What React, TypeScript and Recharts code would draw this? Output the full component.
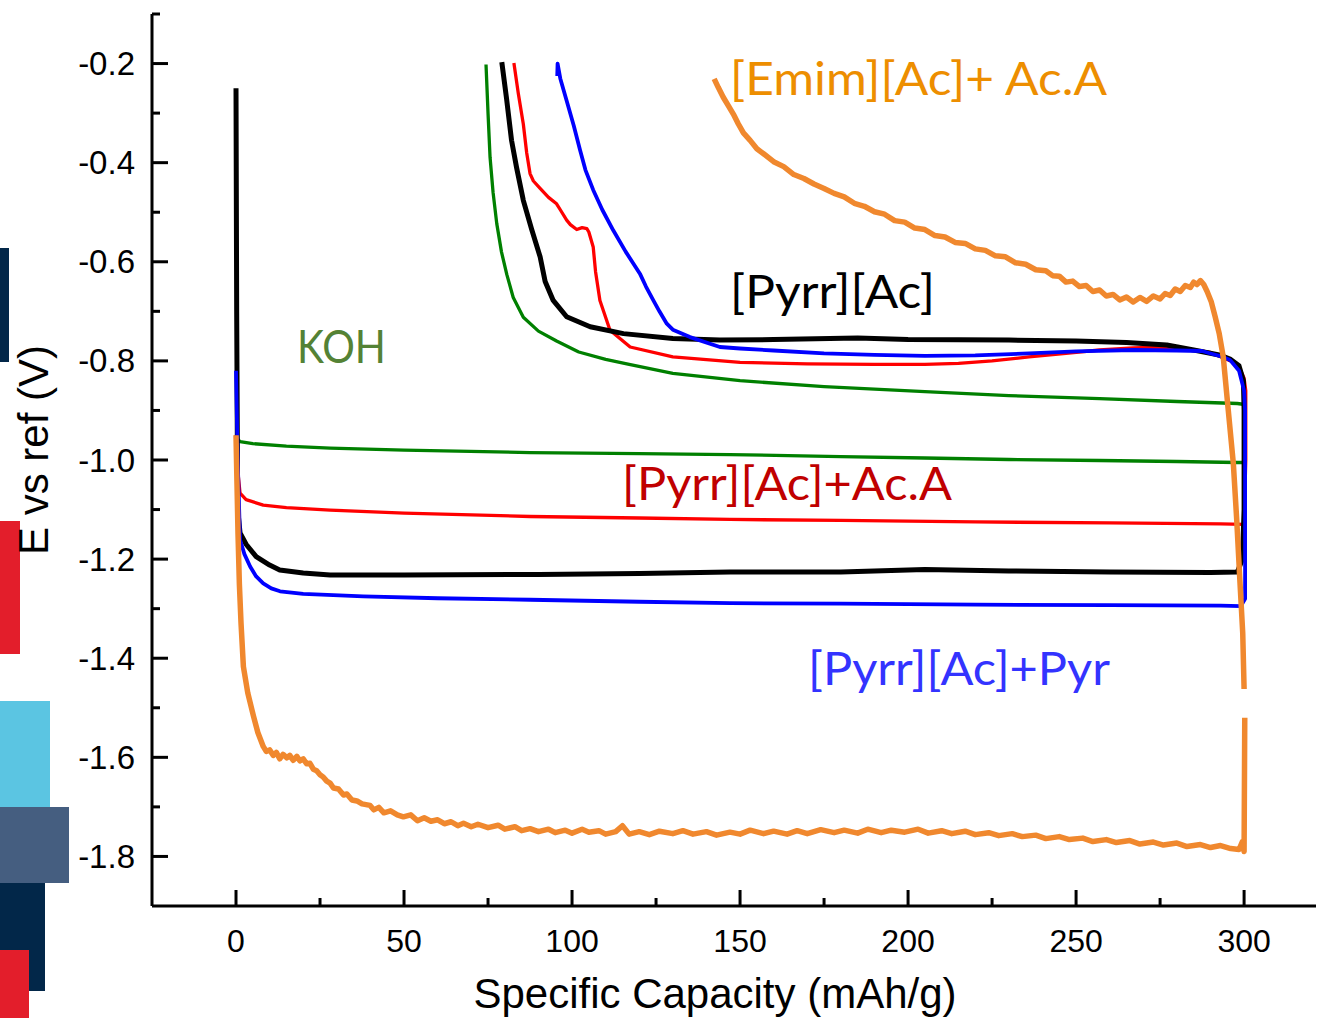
import React from "react";
import { LineChart, Line, XAxis, YAxis } from "recharts";

type P = [number, number | null];

const xTicks = [0, 25, 50, 75, 100, 125, 150, 175, 200, 225, 250, 275, 300];
const yTicks = [-1.8, -1.7, -1.6, -1.5, -1.4, -1.3, -1.2, -1.1, -1.0, -0.9, -0.8, -0.7, -0.6, -0.5, -0.4, -0.3, -0.2, -0.1];

// KOH
const kohCharge: P[] = [
  [0, -0.95], [0.5, -0.958], [1.2, -0.963], [5, -0.967], [15, -0.972], [28, -0.976], [50, -0.98],
  [87.5, -0.985], [120, -0.987], [147, -0.989], [180, -0.993], [205, -0.996], [230, -0.999],
  [257, -1.001], [280, -1.003], [298, -1.005], [300, -1.005],
];
const kohDischarge: P[] = [
  [300.3, -0.95], [300.2, -0.888], [298, -0.886], [280, -0.882], [257, -0.876], [230, -0.87],
  [205, -0.862], [175, -0.852], [150, -0.84], [130, -0.825], [117, -0.807], [110, -0.797],
  [102, -0.782], [95.4, -0.76], [90, -0.74], [85.5, -0.712], [82.5, -0.672], [80.6, -0.626],
  [79, -0.58], [77.6, -0.523], [76.5, -0.46], [75.6, -0.389], [75, -0.3], [74.4, -0.202],
];

// [Pyrr][Ac]+Ac.A
const acaCharge: P[] = [
  [0, -0.95], [0.5, -1.02], [1.2, -1.067], [3, -1.08], [8.1, -1.091], [15, -1.096], [28, -1.101],
  [50, -1.107], [87.5, -1.114], [120, -1.117], [147, -1.12], [180, -1.122], [220, -1.125],
  [260, -1.127], [293, -1.129], [300, -1.13],
];
const acaDischarge: P[] = [
  [300.5, -1.0], [300.5, -0.86], [300, -0.835], [298.5, -0.812], [296, -0.8], [290, -0.783],
  [283, -0.776], [277, -0.772], [267, -0.774], [257, -0.778], [247, -0.785], [236, -0.792],
  [225, -0.8], [215, -0.805], [205, -0.807], [190, -0.807], [170, -0.806], [150, -0.803],
  [130, -0.792], [117.3, -0.772], [111.3, -0.738], [108.3, -0.678], [107, -0.62], [106.3, -0.57],
  [105, -0.54], [104.4, -0.533], [103, -0.531], [101.4, -0.535], [99.5, -0.525], [98.4, -0.516],
  [96.5, -0.495], [95.4, -0.483], [93, -0.47], [90.5, -0.452], [88.5, -0.437], [87.5, -0.422],
  [86.5, -0.38], [85.5, -0.322], [84, -0.26], [82.7, -0.199],
];

// [Pyrr][Ac]
const pyrrCharge: P[] = [
  [0, -0.25], [0.2, -0.7], [0.5, -1.1], [1.2, -1.147], [3, -1.17], [6, -1.195], [10, -1.212],
  [13, -1.222], [20, -1.228], [28, -1.232], [50, -1.232], [90, -1.231], [120, -1.229],
  [147, -1.226], [180, -1.226], [205, -1.221], [230, -1.224], [260, -1.226], [290, -1.227],
  [298, -1.226],
];
const pyrrDischarge: P[] = [
  [299.5, -1.2], [300, -1.1], [300, -0.9], [299.8, -0.84], [298.5, -0.81], [296, -0.797],
  [292.6, -0.788], [285, -0.778], [277, -0.768], [265, -0.763], [250, -0.76], [230, -0.758],
  [200, -0.757], [185, -0.754], [160, -0.757], [144, -0.758], [130, -0.755], [115.3, -0.745],
  [105.4, -0.731], [98.4, -0.711], [94.4, -0.678], [92, -0.64], [90.5, -0.59], [88, -0.535],
  [85.5, -0.476], [83.5, -0.41], [82, -0.355], [80.5, -0.27], [79.1, -0.197],
];

// [Pyrr][Ac]+Pyr
const pyrCharge: P[] = [
  [0, -0.82], [0.5, -1.0], [1.2, -1.161], [2.5, -1.19], [4.2, -1.215], [6, -1.235], [8.1, -1.249],
  [10.5, -1.259], [13.1, -1.265], [20, -1.27], [37.9, -1.275], [60, -1.279], [87.5, -1.282],
  [120, -1.286], [147, -1.289], [180, -1.29], [220, -1.292], [260, -1.293], [293, -1.294],
  [299, -1.295],
];
const pyrDischarge: P[] = [
  [300.3, -1.28], [300.3, -0.9], [300, -0.86], [298.5, -0.82], [295.8, -0.798], [293.7, -0.792],
  [290, -0.785], [287.5, -0.78], [280, -0.779], [267, -0.778], [250, -0.781], [236, -0.785],
  [220, -0.789], [205, -0.79], [190, -0.788], [175, -0.785], [160, -0.779], [150, -0.775],
  [144, -0.772], [135.1, -0.752], [130, -0.737], [128.2, -0.725], [126, -0.7], [124.2, -0.678],
  [122, -0.65], [120.2, -0.624], [116, -0.58], [112.3, -0.537], [109, -0.495], [106.3, -0.455],
  [104, -0.415], [102.4, -0.375], [100.5, -0.325], [98.4, -0.275], [96.5, -0.23], [95.7, -0.2],
  [95.6, -0.225],
];

// [Emim][Ac]+ Ac.A (noisy trace)
const emimCharge: P[] = [
  [0, -0.95], [0.3, -1.05], [0.6, -1.15], [1, -1.25], [1.5, -1.33], [2.2, -1.417], [3.5, -1.47],
  [5.2, -1.517], [6.5, -1.55], [8.1, -1.578], [9, -1.588], [10, -1.585], [11.1, -1.596], [12, -1.59],
  [13, -1.603], [14, -1.594], [15.1, -1.601], [16, -1.596], [17, -1.606], [18.1, -1.598], [19, -1.607],
  [20, -1.603], [21, -1.613], [22, -1.612], [23, -1.624], [24, -1.627], [25, -1.635], [26, -1.64],
  [27, -1.648], [28, -1.652], [29, -1.662], [30.5, -1.664], [32, -1.676], [33, -1.674], [34.5, -1.686],
  [36, -1.688], [37.5, -1.694], [39.9, -1.697], [41, -1.706], [42.5, -1.701], [44, -1.712], [46, -1.708],
  [48, -1.716], [49.8, -1.72], [52, -1.716], [54, -1.728], [56, -1.722], [58, -1.729], [60, -1.726],
  [62, -1.734], [64, -1.73], [66, -1.738], [67.7, -1.733], [70, -1.74], [72, -1.735], [75, -1.742],
  [78, -1.737], [80, -1.745], [83, -1.74], [85, -1.748], [87.5, -1.744], [90, -1.75], [93, -1.745],
  [95, -1.752], [98, -1.747], [100, -1.753], [103, -1.745], [105, -1.751], [108, -1.748], [110, -1.755],
  [113, -1.75], [115, -1.738], [117, -1.755], [120, -1.75], [123, -1.756], [126, -1.749], [130, -1.754],
  [133, -1.748], [136, -1.755], [140, -1.75], [143, -1.757], [147, -1.751], [150, -1.755], [153, -1.747],
  [157, -1.754], [160, -1.749], [164, -1.755], [167, -1.748], [170, -1.754], [174, -1.746], [178, -1.752],
  [181, -1.747], [185, -1.753], [188, -1.745], [192, -1.752], [195, -1.747], [199, -1.751], [203, -1.745],
  [206, -1.753], [210, -1.748], [213, -1.754], [217, -1.749], [220, -1.756], [224, -1.752], [227, -1.758],
  [231, -1.754], [234, -1.76], [238, -1.757], [241, -1.764], [245, -1.76], [248, -1.766], [252, -1.763],
  [255, -1.77], [259, -1.766], [262, -1.772], [266, -1.768], [269, -1.775], [273, -1.771], [276, -1.777],
  [280, -1.773], [283, -1.78], [287, -1.776], [290, -1.782], [293, -1.778], [296, -1.784], [298.5, -1.786],
  [299.5, -1.77], [300, -1.79], [300.2, -1.52],
];
const emimGap: P[] = [[300.1, null]];
const emimDischarge: P[] = [
  [300, -1.462], [299.6, -1.35], [298.8, -1.25], [297.8, -1.12], [296.8, -1.007], [295.3, -0.9],
  [293.8, -0.792], [292.6, -0.745], [291.4, -0.711], [290.2, -0.68], [289, -0.66], [288, -0.646],
  [287, -0.638], [286, -0.646], [285, -0.641], [284, -0.652], [282.5, -0.648], [281, -0.66],
  [279.5, -0.655], [278, -0.668], [276.5, -0.664], [275, -0.675], [273, -0.669], [271, -0.68],
  [269, -0.672], [267, -0.681], [265, -0.671], [263, -0.677], [261, -0.666], [259, -0.669],
  [257, -0.657], [255, -0.66], [253, -0.648], [251, -0.65], [249, -0.639], [247, -0.641],
  [245, -0.629], [243, -0.628], [241, -0.618], [238, -0.616], [235, -0.605], [232, -0.602],
  [229, -0.59], [226, -0.588], [223, -0.577], [220, -0.574], [217, -0.563], [214, -0.561],
  [211, -0.55], [208, -0.547], [205, -0.535], [202, -0.532], [199, -0.52], [196, -0.517],
  [193, -0.504], [190, -0.499], [187, -0.488], [184, -0.482], [181, -0.469], [178, -0.462],
  [175, -0.452], [172, -0.443], [169, -0.432], [166, -0.424], [163, -0.408], [160, -0.398],
  [157, -0.382], [155, -0.372], [153, -0.355], [151, -0.34], [149.5, -0.322], [148, -0.302],
  [146.5, -0.285], [145, -0.268], [143.5, -0.248], [142.3, -0.231],
];

const pts = (...parts: P[][]) => parts.flat().map(([x, y]) => ({ x, y }));

const kohData = pts(kohCharge, kohDischarge);
const acaData = pts(acaCharge, acaDischarge);
const pyrrData = pts(pyrrCharge, pyrrDischarge);
const pyrData = pts(pyrCharge, pyrDischarge);
const emimData = pts(emimCharge, emimGap, emimDischarge);

const axisFont = "'Liberation Sans', Arial, sans-serif";
const noteFont = "Lato, 'Noto Sans', sans-serif";

function XTick(props: any) {
  const { x, y, payload } = props;
  const major = payload.value % 50 === 0;
  return (
    <g>
      <line x1={x} y1={y} x2={x} y2={y - (major ? 16 : 8)} stroke="#000" strokeWidth={3} />
      {major && (
        <text x={x} y={y + 46} textAnchor="middle" fontSize={32} fontFamily={axisFont} fill="#000">
          {payload.value}
        </text>
      )}
    </g>
  );
}

function YTick(props: any) {
  const { x, y, payload } = props;
  const major = Math.round(payload.value * 10) % 2 === 0;
  return (
    <g>
      <line x1={x} y1={y} x2={x + (major ? 16 : 8)} y2={y} stroke="#000" strokeWidth={3} />
      {major && (
        <text x={x - 17} y={y + 11.5} textAnchor="end" fontSize={33} fontFamily={axisFont} fill="#000">
          {payload.value.toFixed(1)}
        </text>
      )}
    </g>
  );
}

const blocks = [
  { top: 248, width: 9, height: 114, color: "#022749" },
  { top: 521, width: 20, height: 133, color: "#E31E2B" },
  { top: 701, width: 50, height: 106, color: "#5BC5E2" },
  { top: 807, width: 69, height: 76, color: "#455E80" },
  { top: 883, width: 45, height: 108, color: "#022749" },
  { top: 950, width: 29, height: 68, color: "#E31E2B" },
];

export default function App() {
  const line = { dot: false, activeDot: false, isAnimationActive: false, type: "linear" as const, dataKey: "y", strokeLinejoin: "round" as const };
  return (
    <div style={{ position: "absolute", left: 0, top: 0, width: 1321, height: 1018, background: "#fff", overflow: "hidden" }}>
      {blocks.map((b, i) => (
        <div key={i} style={{ position: "absolute", left: 0, top: b.top, width: b.width, height: b.height, background: b.color }} />
      ))}
      <div style={{ position: "absolute", left: 0, top: 0 }}>
        <LineChart width={1321} height={1018} margin={{ top: 14, right: 5, bottom: 0, left: 0 }}>
          <XAxis
            dataKey="x"
            type="number"
            domain={[-25, 321.4]}
            ticks={xTicks}
            interval={0}
            height={112}
            tickSize={0}
            tickMargin={0}
            tick={<XTick />}
            axisLine={{ stroke: "#000", strokeWidth: 3 }}
            allowDataOverflow
          />
          <YAxis
            type="number"
            domain={[-1.9, -0.1]}
            ticks={yTicks}
            interval={0}
            width={152}
            tickSize={0}
            tickMargin={0}
            tick={<YTick />}
            axisLine={{ stroke: "#000", strokeWidth: 3 }}
            allowDataOverflow
          />
          <Line {...line} data={kohData} stroke="#008000" strokeWidth={3.3} />
          <Line {...line} data={acaData} stroke="#FF0000" strokeWidth={3.3} />
          <Line {...line} data={pyrrData} stroke="#000000" strokeWidth={5} />
          <Line {...line} data={pyrData} stroke="#0000FF" strokeWidth={3.8} />
          <Line {...line} data={emimData} stroke="#F0882E" strokeWidth={5.5} connectNulls={false} />
        </LineChart>
      </div>
      <svg width={1321} height={1018} style={{ position: "absolute", left: 0, top: 0, pointerEvents: "none" }}>
        <g fontFamily={noteFont} fontSize={46}>
          <text x={730} y={95} fill="#ED8E00" textLength={377} lengthAdjust="spacingAndGlyphs">[Emim][Ac]+ Ac.A</text>
          <text x={730} y={308} fill="#000" textLength={205} lengthAdjust="spacingAndGlyphs">[Pyrr][Ac]</text>
          <text x={297} y={363} fill="#548235" textLength={89} lengthAdjust="spacingAndGlyphs">KOH</text>
          <text x={622} y={500} fill="#C00000" textLength={330} lengthAdjust="spacingAndGlyphs">[Pyrr][Ac]+Ac.A</text>
          <text x={808} y={685} fill="#3333FF" textLength={302} lengthAdjust="spacingAndGlyphs">[Pyrr][Ac]+Pyr</text>
        </g>
        <text x={715} y={1008} textAnchor="middle" fontSize={42} fontFamily={axisFont} fill="#000">
          Specific Capacity (mAh/g)
        </text>
        <text x={48} y={450} transform="rotate(-90 48 450)" textAnchor="middle" fontSize={42} fontFamily={axisFont} fill="#000">
          E vs ref (V)
        </text>
      </svg>
    </div>
  );
}
